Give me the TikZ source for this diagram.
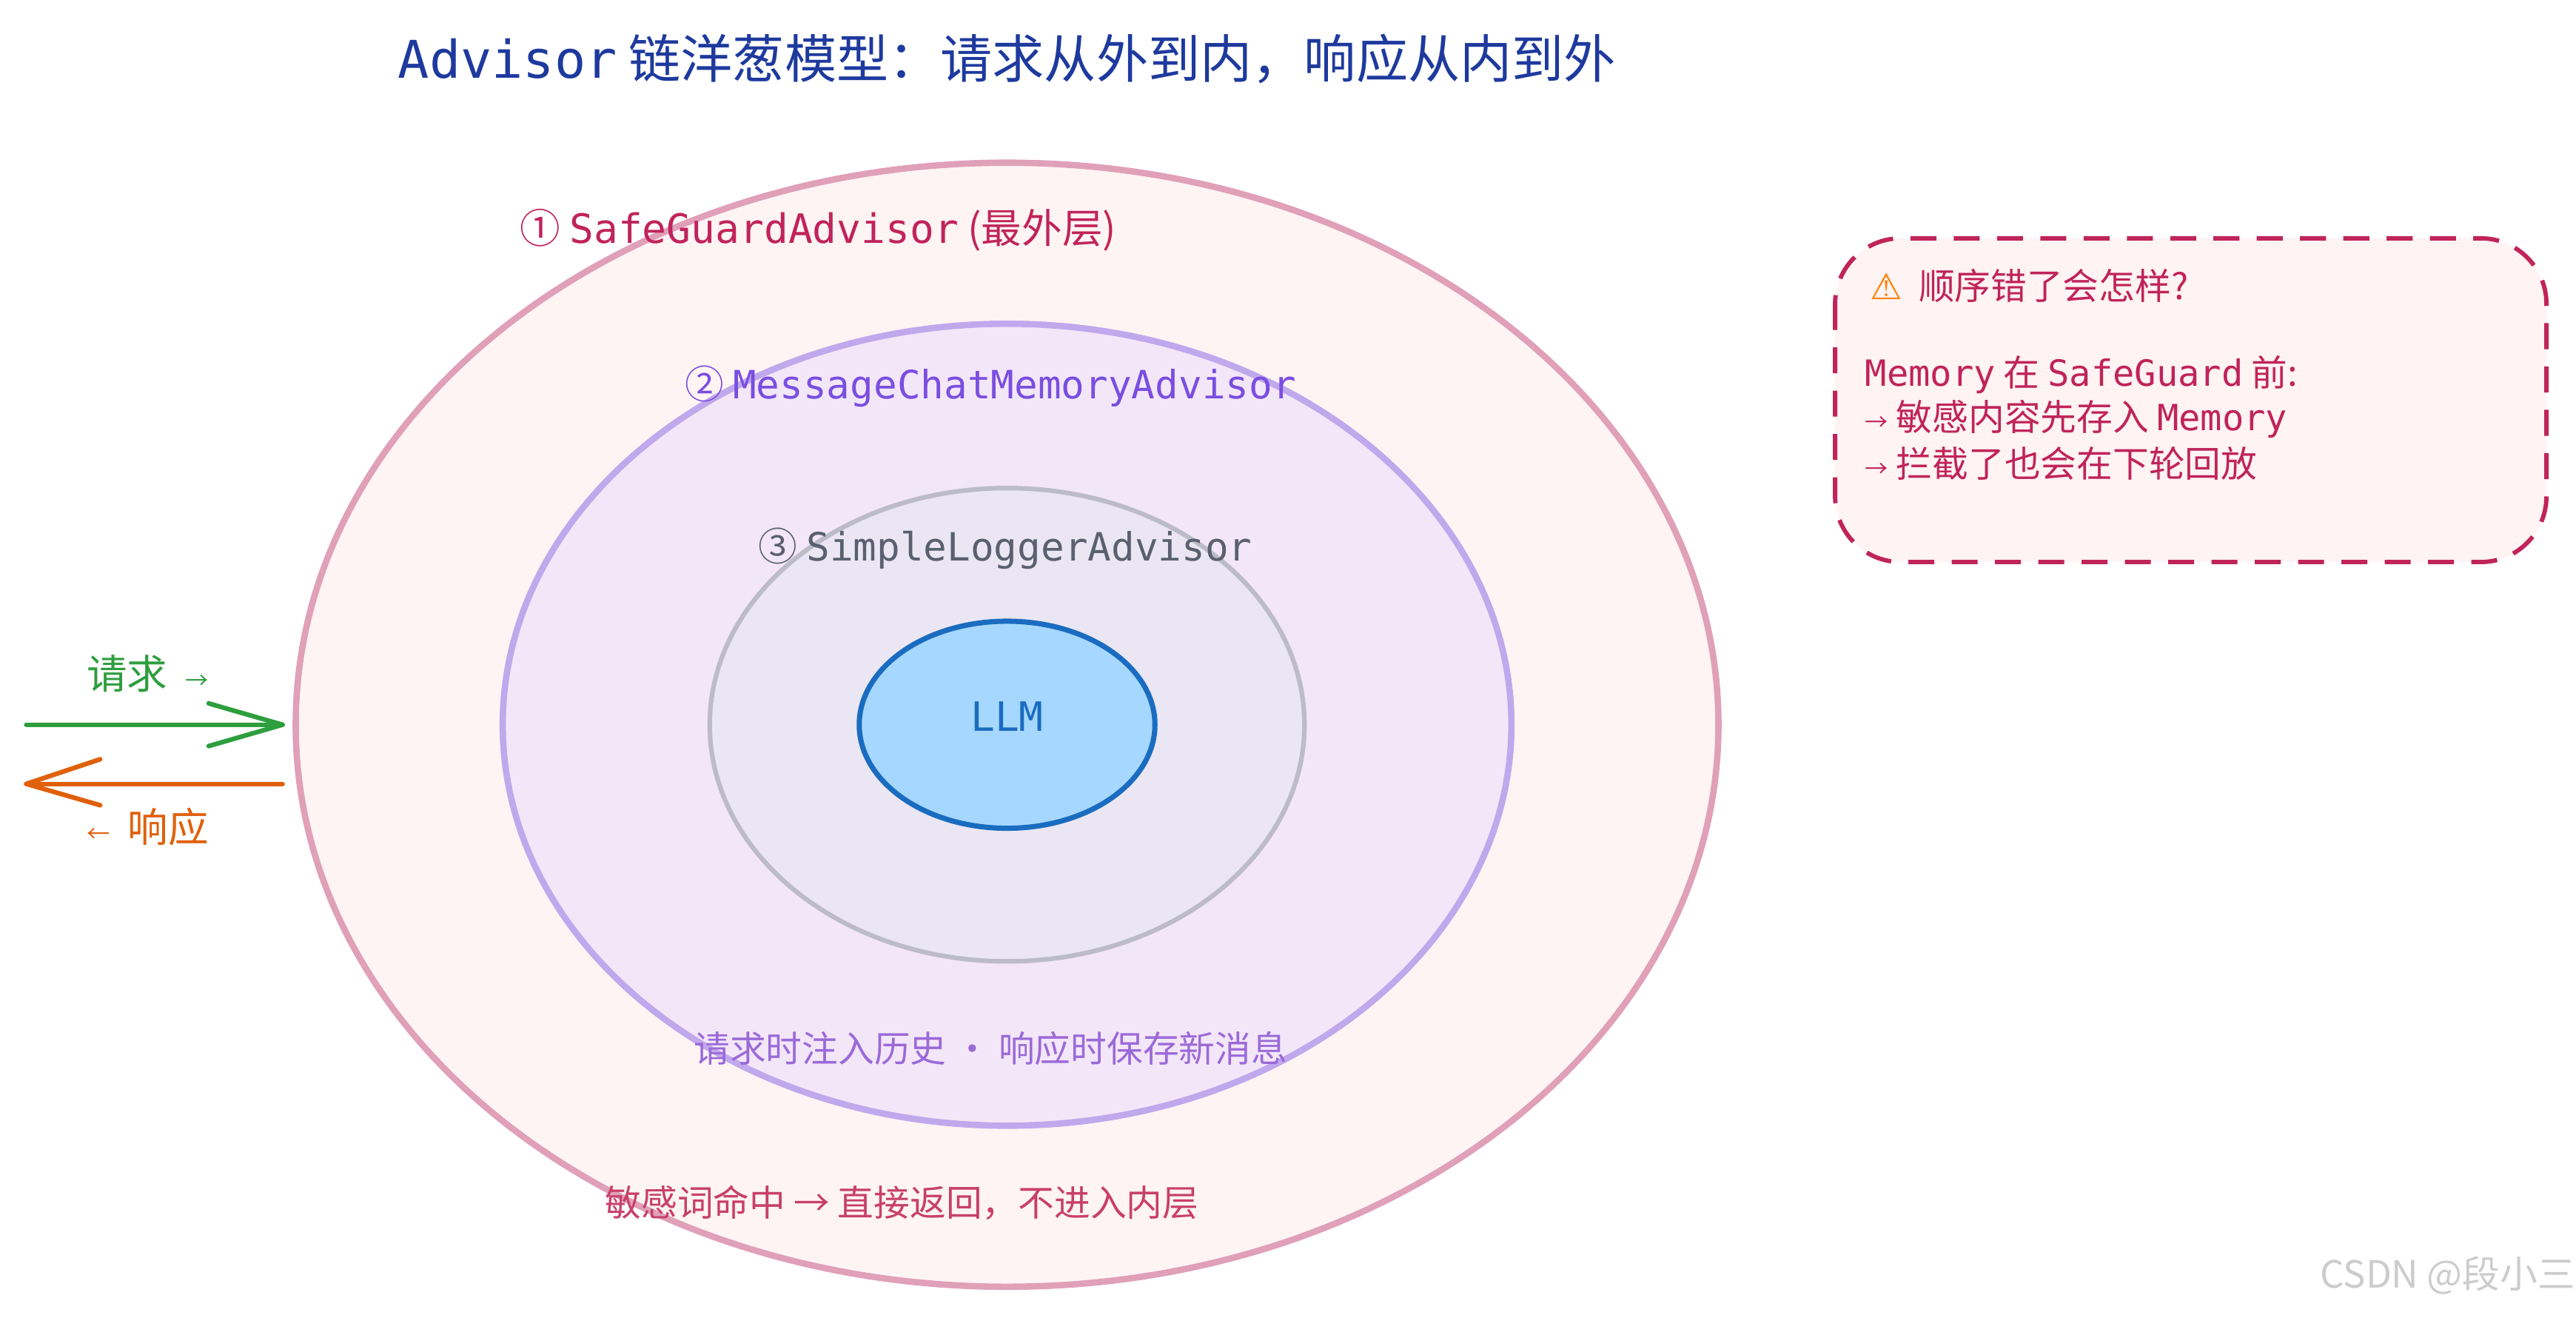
\documentclass[tikz,border=0pt]{standalone}
\usepackage{fontspec}
\setmainfont{Noto Sans CJK SC}
\newfontfamily\mono{DejaVu Sans Mono}
\newfontfamily\sym{DejaVu Sans}
\definecolor{titleblue}{HTML}{1E3A9E}
\definecolor{crim}{HTML}{C0245A}
\definecolor{purp}{HTML}{7A4EE0}
\definecolor{grayt}{HTML}{5A6070}
\definecolor{llmb}{HTML}{1A6CC0}
\definecolor{grn}{HTML}{2E9E3E}
\definecolor{org}{HTML}{E0600A}
\tikzset{lbl/.style={inner sep=0pt,anchor=center}}
\begin{document}
\begin{tikzpicture}[x=0.02cm,y=-0.02cm]
\useasboundingbox (0,0) rectangle (1568,802);
\node[lbl,text=titleblue,font=\fontsize{18}{20}\selectfont] (title) at (613,36) {{\mono Advisor}\ 链洋葱模型：请求从外到内，响应从内到外};
\draw[line width=2.2pt,draw={rgb,255:red,224;green,160;blue,184},fill={rgb,255:red,255;green,244;blue,244}] (613,441) ellipse [x radius=433,y radius=342];
\draw[line width=2.2pt,draw={rgb,255:red,192;green,168;blue,236},fill={rgb,255:red,243;green,230;blue,248}] (613,441) ellipse [x radius=307,y radius=244];
\draw[line width=1.6pt,draw={rgb,255:red,188;green,188;blue,200},fill={rgb,255:red,235;green,230;blue,243}] (613,441) ellipse [x radius=181,y radius=144];
\draw[line width=1.8pt,draw=llmb,fill={rgb,255:red,166;green,216;blue,255}] (613,441) ellipse [x radius=90,y radius=63];
\node[lbl,text=llmb,font=\mono\fontsize{14}{16}\selectfont] (llm) at (613,436) {LLM};
\node[lbl,text=crim,font=\fontsize{14}{16}\selectfont] (l1) at (498,140) {①\ {\mono SafeGuardAdvisor}\ (最外层)};
\node[lbl,text=purp,font=\fontsize{13.5}{16}\selectfont] (l2) at (603,235) {②\ {\mono MessageChatMemoryAdvisor}};
\node[lbl,text=grayt,font=\fontsize{13.5}{16}\selectfont] (l3) at (612,334) {③\ {\mono SimpleLoggerAdvisor}};
\node[lbl,text={rgb,255:red,154;green,106;blue,216},font=\fontsize{12.5}{14}\selectfont] (n2) at (603,638) {请求时注入历史 · 响应时保存新消息};
\node[lbl,text={rgb,255:red,200;green,64;blue,106},font=\fontsize{12.5}{14}\selectfont] (n1) at (549,732) {敏感词命中\ → 直接返回，不进入内层};
\coordinate (ra) at (16,441); \coordinate (rb) at (172,441);
\coordinate (oa) at (172,477); \coordinate (ob) at (16,477);
\draw[grn,line width=1.6pt,line cap=round] (ra) -- (rb);
\draw[grn,line width=1.6pt,line cap=round] (rb) -- ++(-45,-13) (rb) -- ++(-45,13);
\draw[org,line width=1.6pt,line cap=round] (oa) -- (ob);
\draw[org,line width=1.6pt,line cap=round] (ob) -- ++(45,-15) (ob) -- ++(45,13);
\node[lbl,text=grn,font=\fontsize{14}{16}\selectfont] (req) at (90,410) {请求\ \ {\footnotesize →}};
\node[lbl,text=org,font=\fontsize{14}{16}\selectfont] (resp) at (90,503) {{\footnotesize ←}\ \ 响应};
\draw[crim,line width=1.5pt,dash pattern=on 9pt off 6pt,fill={rgb,255:red,255;green,243;blue,243},rounded corners=0.8cm] (1117,145) rectangle (1550,342);
\node[lbl,anchor=west,text=crim,font=\fontsize{12.5}{14}\selectfont] (b1) at (1138,174) {{\sym\color{orange}⚠}\ \ 顺序错了会怎样?};
\node[lbl,anchor=west,text=crim,font=\fontsize{12.5}{14}\selectfont] (b2) at (1135,228) {{\mono Memory}\ 在\ {\mono SafeGuard}\ 前:};
\node[lbl,anchor=west,text=crim,font=\fontsize{12.5}{14}\selectfont] (b3) at (1135,255) {{\footnotesize →}\ 敏感内容先存入\ {\mono Memory}};
\node[lbl,anchor=west,text=crim,font=\fontsize{12.5}{14}\selectfont] (b4) at (1135,282) {{\footnotesize →}\ 拦截了也会在下轮回放};
\node[lbl,text=gray!40,font=\fontsize{13}{15}\selectfont] (wm) at (1490,776) {CSDN @段小三};
\end{tikzpicture}
\end{document}
